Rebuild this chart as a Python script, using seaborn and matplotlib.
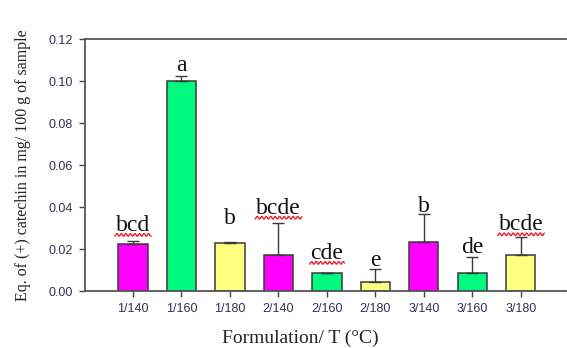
import numpy as np
import pandas as pd
import matplotlib
matplotlib.use("Agg")
import matplotlib.pyplot as plt
from matplotlib.transforms import IdentityTransform
import seaborn as sns

# Formulation / temperature groups
formulations = ["1/140", "1/160", "1/180", "2/140", "2/160", "2/180", "3/140", "3/160", "3/180"]
# Mean catechin equivalents (mg / 100 g of sample)
means = [0.0222, 0.1000, 0.0227, 0.0170, 0.0087, 0.0044, 0.0235, 0.0084, 0.0170]
# Upper standard deviation
sd_upper = [0.0018, 0.0024, 0.0006, 0.0155, 0.0, 0.0059, 0.0130, 0.0076, 0.0086]
# Significance letters
letters = ["bcd", "a", "b", "bcde", "cde", "e", "b", "de", "bcde"]
# Letter groups flagged with a wavy underline
underlined = [True, False, False, True, True, False, False, False, True]

temp_colors = {"140": "#FF00FF", "160": "#00FA7F", "180": "#FFFF80"}
bar_colors = [temp_colors[f.split("/")[1]] for f in formulations]
# Vertical gap (points) between the error bar top and each letter
label_gap = [7, 3.5, 13, 6.5, 10, 2.5, 1.5, 3.5, 5]

df = pd.DataFrame({"formulation": formulations, "mean": means})

sns.set_theme(style="white")
plt.rcParams["font.family"] = ["Liberation Sans", "DejaVu Sans"]

DPI = 100
fig = plt.figure(figsize=(5.67, 3.48), dpi=DPI)
ax = fig.add_axes([85 / 567, 57 / 348, (566 - 85) / 567, (291 - 39) / 348])

sns.barplot(data=df, x="formulation", y="mean", hue="formulation",
            palette=bar_colors, saturation=1, legend=False, width=0.6,
            edgecolor="#3a3a3a", linewidth=1.1, ax=ax, zorder=2)

x = np.arange(len(formulations))
ax.errorbar(x, means, yerr=[np.zeros(len(means)), sd_upper], fmt="none",
            ecolor="#3a3a3a", elinewidth=1.0, capsize=4, capthick=1.0, zorder=3)

ax.set_xlim(-0.99, 8.93)
ax.set_ylim(0, 0.12)
ax.set_yticks(np.arange(0, 0.121, 0.02))
ax.set_yticklabels([f"{v:.2f}" for v in np.arange(0, 0.121, 0.02)])

tick_color = "#303050"
ax.tick_params(axis="both", which="major", direction="out", length=4, width=1,
               color="#444444", labelsize=9, labelcolor=tick_color, pad=5,
               bottom=True, left=True)

for side in ["left", "bottom", "top"]:
    ax.spines[side].set_visible(True)
    ax.spines[side].set_color("#555555")
    ax.spines[side].set_linewidth(1.3)
ax.spines["right"].set_visible(False)

serif = ["Liberation Serif", "DejaVu Serif"]
ax.set_ylabel("Eq. of (+) catechin in mg/ 100 g of sample", family=serif,
              fontsize=11.5, color="#222222", labelpad=12)
ax.set_xlabel("Formulation/ T (°C)", family=serif, fontsize=14,
              color="#222222")
ax.xaxis.set_label_coords(0.447, -0.152)

texts = []
for i, (m, s, lab, gap) in enumerate(zip(means, sd_upper, letters, label_gap)):
    t = ax.annotate(lab, xy=(i, m + s), xytext=(0, gap), textcoords="offset points",
                    ha="center", va="baseline", family=serif, fontsize=17,
                    color="#111111", zorder=4)
    texts.append(t)

# Red wavy underline beneath flagged letter groups
fig.canvas.draw()
renderer = fig.canvas.get_renderer()
for i, (t, flag) in enumerate(zip(texts, underlined)):
    if not flag:
        continue
    bb = t.get_window_extent(renderer)
    base_y = ax.transData.transform((i, means[i] + sd_upper[i]))[1] + label_gap[i] * DPI / 72
    xs = np.linspace(bb.x0 - 1, bb.x1 + 1, 120)
    ys = base_y - 4 + 1.3 * np.sin((xs - bb.x0) * 2 * np.pi / 4.5)
    fig.lines.append(plt.Line2D(xs, ys, transform=IdentityTransform(),
                                color="#E8202A", linewidth=1.0, figure=fig))

fig.savefig("out.png", dpi=DPI)
